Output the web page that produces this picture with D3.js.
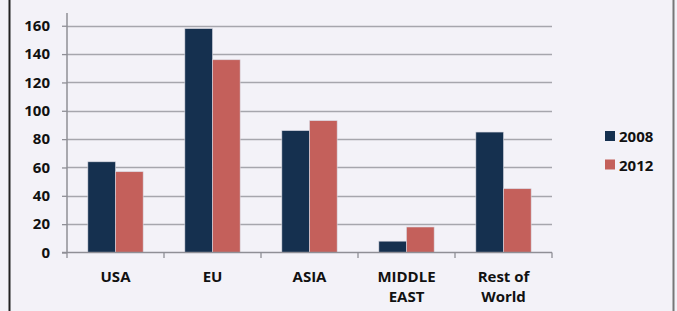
<!DOCTYPE html>
<html>
<head>
<meta charset="utf-8">
<script src="https://cdn.jsdelivr.net/npm/d3@7"></script>
<style>
  body { margin: 0; background: #f3f2f8; }
  svg { display: block; }
  text { font-family: "Open Sans", "Liberation Sans", sans-serif; font-weight: bold; fill: #111; }
</style>
</head>
<body>
<div id="chart"></div>
<script>
// Data
const categories = [['USA'], ['EU'], ['ASIA'], ['MIDDLE', 'EAST'], ['Rest of', 'World']];
const seriesNames = ['2008', '2012'];
const values2008 = [64, 158, 86, 8, 85];
const values2012 = [57, 136, 93, 18, 45];
const yTicks = [0, 20, 40, 60, 80, 100, 120, 140, 160];
const colors = ['#15304f', '#c4605b'];

const width = 677, height = 311;
const plot = { left: 67, right: 552, top: 13, bottom: 252.5 };
const fontSize = 15;

const svg = d3.select('#chart').append('svg')
    .attr('width', width)
    .attr('height', height);

// Frame
svg.append('rect').attr('x', 0).attr('y', 0).attr('width', width).attr('height', height).attr('fill', '#f3f2f8');
svg.append('line').attr('x1', 9.5).attr('x2', 9.5).attr('y1', 0).attr('y2', height)
    .attr('stroke', '#222').attr('stroke-width', 2);
svg.append('line').attr('x1', 673.5).attr('x2', 673.5).attr('y1', 0).attr('y2', height)
    .attr('stroke', '#777').attr('stroke-width', 2);

const keys = categories.map(c => c.join(' '));
const x = d3.scaleBand().domain(keys).range([plot.left, plot.right]).paddingInner(0).paddingOuter(0);
const y = d3.scaleLinear().domain([0, 169]).range([plot.bottom, plot.top]);

// Gridlines
svg.append('g').selectAll('line').data(yTicks.slice(1)).join('line')
    .attr('x1', plot.left).attr('x2', plot.right)
    .attr('y1', d => Math.round(y(d)) + 0.5).attr('y2', d => Math.round(y(d)) + 0.5)
    .attr('stroke', '#a6a6ad').attr('stroke-width', 1.3);

// Bars
const barW = x.bandwidth() * 0.57 / 2;
const data = keys.map((k, i) => ({ key: k, vals: [values2008[i], values2012[i]] }));
const groups = svg.append('g').selectAll('g').data(data).join('g')
    .attr('transform', d => `translate(${x(d.key) + (x.bandwidth() - 2 * barW) / 2},0)`);
groups.selectAll('rect').data(d => d.vals).join('rect')
    .attr('x', (d, j) => j * barW)
    .attr('y', d => y(d))
    .attr('width', barW)
    .attr('height', d => plot.bottom - y(d))
    .attr('fill', (d, j) => colors[j])
    .attr('stroke', '#d8d8e2').attr('stroke-width', 0.6);

// Y axis
const yAxis = svg.append('g').attr('transform', `translate(${plot.left},0)`)
    .call(d3.axisLeft(y).tickValues(yTicks).tickSize(5).tickPadding(12));
yAxis.select('.domain').attr('d', `M0,${plot.top}V${plot.bottom}`).attr('stroke', '#8f8f96').attr('stroke-width', 1.5);
yAxis.selectAll('.tick line').attr('stroke', '#8f8f96').attr('stroke-width', 1.3);
yAxis.selectAll('.tick text').attr('font-size', fontSize).attr('fill', '#111');

// X axis
const xAxis = svg.append('g').attr('transform', `translate(0,${plot.bottom})`);
xAxis.append('line').attr('x1', plot.left - 5).attr('x2', plot.right)
    .attr('stroke', '#8f8f96').attr('stroke-width', 1.5);
const bounds = keys.map(k => x(k)).concat([plot.right]);
xAxis.selectAll('.xtick').data(bounds).join('line')
    .attr('x1', d => d).attr('x2', d => d).attr('y1', 0).attr('y2', 5.5)
    .attr('stroke', '#8f8f96').attr('stroke-width', 1.3);
const labels = xAxis.selectAll('.xlabel').data(categories).join('text')
    .attr('text-anchor', 'middle')
    .attr('font-size', fontSize)
    .attr('transform', (d, i) => `translate(${x(keys[i]) + x.bandwidth() / 2},29.5)`);
labels.selectAll('tspan').data(d => d).join('tspan')
    .attr('x', 0).attr('dy', (d, i) => i === 0 ? 0 : 20)
    .text(d => d);

// Legend
const legend = svg.append('g').attr('transform', 'translate(605,131)');
const items = legend.selectAll('g').data(seriesNames).join('g')
    .attr('transform', (d, i) => `translate(0,${i * 28.5})`);
items.append('rect').attr('width', 10).attr('height', 10).attr('fill', (d, i) => colors[i]);
items.append('text').attr('x', 14).attr('y', 11).attr('font-size', fontSize).text(d => d);
</script>
</body>
</html>
